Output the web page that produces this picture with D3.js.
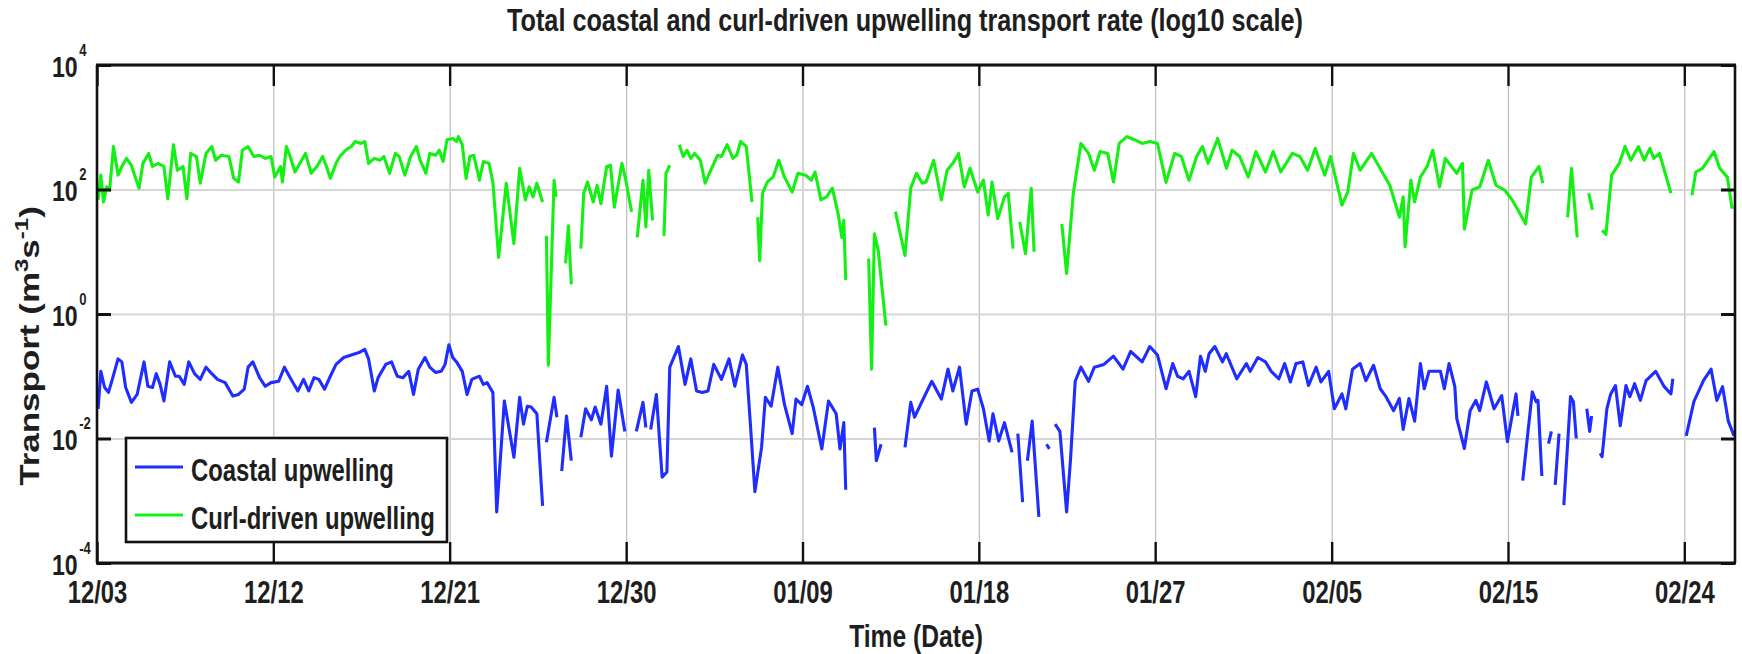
<!DOCTYPE html>
<html>
<head>
<meta charset="utf-8">
<script src="https://cdn.jsdelivr.net/npm/d3@7"></script>
<style>
  body { margin: 0; background: #fff; }
  text { font-family: "Liberation Sans", Arial, sans-serif; font-weight: bold; fill: #1e1e1e; }
</style>
</head>
<body>
<div id="chart"></div>
<script>
// days counted from 12/03 00:00
const dateTickDays = [0, 9.22, 18.44, 27.67, 36.89, 46.11, 55.33, 64.56, 73.78, 83];
const dateTickLabels = ["12/03", "12/12", "12/21", "12/30", "01/09", "01/18", "01/27", "02/05", "02/15", "02/24"];
const transportTicks = [1e-4, 1e-2, 1, 1e2, 1e4];
const seriesNames = ["Coastal upwelling", "Curl-driven upwelling"];

// [day, transport m^3 s^-1], null = no data
const coastalSeries = [
  [0.06,0.030],[0.2,0.12],[0.4,0.066],[0.6,0.055],[0.8,0.089],[1.1,0.19],[1.3,0.17],[1.5,0.066],[1.8,0.038],[2.1,0.051],
  [2.46,0.17],[2.66,0.069],[2.9,0.066],[3.1,0.11],[3.3,0.074],[3.5,0.040],[3.8,0.17],[4.1,0.10],[4.3,0.10],[4.56,0.074],
  [4.8,0.17],[5.1,0.11],[5.4,0.089],[5.7,0.14],[6.0,0.11],[6.3,0.089],[6.7,0.079],[7.1,0.048],[7.4,0.051],[7.7,0.062],
  [7.9,0.14],[8.15,0.17],[8.5,0.095],[8.8,0.069],[9.1,0.079],[9.5,0.083],[9.8,0.14],[10.1,0.095],[10.5,0.058],[10.8,0.089],
  [11.07,0.058],[11.35,0.095],[11.6,0.089],[11.9,0.062],[12.2,0.10],[12.5,0.155],[12.9,0.20],[13.3,0.22],[13.7,0.24],[14.0,0.27],
  [14.2,0.19],[14.5,0.058],[14.7,0.095],[15.1,0.155],[15.4,0.17],[15.7,0.10],[16.0,0.095],[16.3,0.12],[16.55,0.051],[16.8,0.13],
  [17.15,0.20],[17.4,0.14],[17.7,0.115],[18.0,0.12],[18.2,0.155],[18.4,0.32],[18.6,0.20],[18.8,0.17],[19.1,0.12],[19.35,0.051],
  [19.6,0.089],[19.8,0.095],[20.0,0.10],[20.2,0.074],[20.4,0.079],[20.7,0.055],[20.9,0.00066],[21.3,0.040],[21.8,0.0050],[22.1,0.046],
  [22.3,0.017],[22.5,0.033],[22.7,0.032],[23.0,0.025],[23.3,0.00083],[23.4,null],[23.5,0.0087],[23.9,0.046],[24.05,0.022],[24.2,null],
  [24.3,0.0030],[24.55,0.023],[24.8,0.0044],[25.0,null],[25.3,0.0105],[25.55,0.030],[25.85,0.020],[26.05,0.032],[26.35,0.017],[26.65,0.069],
  [26.9,0.0052],[27.25,0.060],[27.6,0.013],[27.9,null],[28.2,0.013],[28.55,0.038],[28.7,0.015],[28.8,null],[28.95,0.014],[29.25,0.051],
  [29.55,0.0024],[29.8,0.0029],[29.95,0.14],[30.4,0.30],[30.75,0.074],[31.05,0.19],[31.35,0.058],[31.65,0.055],[31.95,0.058],[32.25,0.155],
  [32.65,0.089],[33.05,0.19],[33.35,0.069],[33.75,0.22],[33.95,0.155],[34.15,0.020],[34.4,0.0014],[34.75,0.0072],[34.95,0.046],[35.25,0.033],
  [35.6,0.14],[35.95,0.035],[36.35,0.012],[36.55,0.043],[36.85,0.035],[37.15,0.069],[37.45,0.032],[37.9,0.0068],[38.25,0.040],[38.65,0.025],
  [38.85,0.0068],[39.05,0.018],[39.15,0.0015],[39.9,null],[40.65,0.015],[40.75,0.0044],[41.0,0.0081],[41.6,null],[42.25,0.0072],[42.55,0.038],
  [42.75,0.022],[43.15,0.040],[43.65,0.083],[44.15,0.043],[44.5,0.13],[44.75,0.058],[45.1,0.14],[45.45,0.017],[45.75,0.058],[46.05,0.062],
  [46.35,0.030],[46.65,0.0091],[46.85,0.025],[47.15,0.0091],[47.45,0.018],[47.85,0.0060],[48.0,null],[48.15,0.012],[48.4,0.00095],[48.5,null],
  [48.65,0.0044],[48.9,0.019],[49.25,0.00055],[49.45,null],[49.65,0.0081],[49.8,0.0068],[49.95,null],[50.1,0.017],[50.35,0.013],[50.7,0.00066],
  [50.9,0.0044],[51.15,0.083],[51.45,0.14],[51.85,0.083],[52.15,0.14],[52.65,0.155],[53.15,0.21],[53.65,0.13],[54.05,0.25],[54.65,0.17],
  [55.05,0.30],[55.45,0.22],[55.9,0.063],[56.25,0.16],[56.5,0.10],[56.8,0.091],[57.1,0.12],[57.45,0.047],[57.7,0.21],[57.95,0.12],
  [58.15,0.23],[58.45,0.30],[58.85,0.17],[59.05,0.23],[59.6,0.091],[60.1,0.16],[60.3,0.12],[60.7,0.20],[61.1,0.17],[61.4,0.12],
  [61.8,0.091],[62.1,0.16],[62.4,0.081],[62.7,0.16],[63.05,0.17],[63.35,0.071],[63.75,0.14],[64.0,0.081],[64.4,0.12],[64.7,0.030],
  [65.1,0.052],[65.3,0.030],[65.65,0.13],[66.05,0.16],[66.35,0.085],[66.75,0.15],[67.1,0.063],[67.4,0.047],[67.8,0.028],[68.1,0.044],
  [68.3,0.014],[68.6,0.044],[68.9,0.019],[69.2,0.16],[69.4,0.063],[69.65,0.12],[70.25,0.12],[70.45,0.063],[70.7,0.16],[71.0,0.068],
  [71.1,0.021],[71.5,0.0069],[71.8,0.028],[72.1,0.041],[72.3,0.028],[72.65,0.081],[73.05,0.030],[73.45,0.049],[73.75,0.0089],[74.2,0.052],
  [74.3,0.023],[74.4,null],[74.55,0.0021],[75.05,0.056],[75.25,0.039],[75.35,0.041],[75.55,0.0025],[75.7,null],[75.9,0.0083],[76.05,0.013],
  [76.15,null],[76.25,0.0018],[76.45,0.012],[76.55,null],[76.7,0.00085],[77.05,0.047],[77.2,0.039],[77.35,0.010],[77.6,null],[77.9,0.030],
  [78.05,0.013],[78.15,0.023],[78.4,null],[78.6,0.0058],[78.7,0.0051],[78.95,0.030],[79.15,0.052],[79.4,0.071],[79.65,0.016],[79.95,0.071],
  [80.15,0.047],[80.4,0.076],[80.7,0.041],[81.0,0.085],[81.5,0.12],[81.95,0.068],[82.3,0.052],[82.4,0.091],[82.8,null],[83.1,0.011],
  [83.5,0.039],[84.0,0.085],[84.4,0.13],[84.7,0.041],[85.0,0.068],[85.3,0.019],[85.6,0.011]
];

const curlSeries = [
  [0.06,68],[0.2,170],[0.34,63],[0.5,110],[0.66,98],[0.86,490],[1.1,170],[1.3,234],[1.54,316],[1.8,245],
  [2.0,158],[2.2,105],[2.4,263],[2.7,380],[2.9,234],[3.2,263],[3.5,234],[3.7,71],[4.0,525],[4.2,204],
  [4.5,234],[4.7,71],[4.9,380],[5.2,339],[5.4,126],[5.7,380],[6.0,490],[6.2,295],[6.5,355],[6.9,339],
  [7.15,151],[7.4,132],[7.6,427],[7.9,490],[8.2,339],[8.5,355],[8.8,316],[9.1,339],[9.3,158],[9.6,234],
  [9.7,132],[9.9,490],[10.1,339],[10.35,191],[10.7,295],[10.9,380],[11.2,182],[11.5,234],[11.8,339],[12.0,234],
  [12.2,151],[12.5,263],[12.7,339],[13.0,427],[13.3,490],[13.5,589],[13.8,550],[14.0,589],[14.2,263],[14.5,316],
  [14.8,295],[15.0,339],[15.3,182],[15.6,380],[15.8,339],[16.1,170],[16.4,339],[16.7,490],[16.9,295],[17.2,182],
  [17.4,380],[17.7,355],[17.9,427],[18.1,282],[18.3,631],[18.6,661],[18.8,589],[18.9,708],[19.1,525],[19.3,151],
  [19.5,339],[19.7,355],[20.0,141],[20.2,282],[20.5,263],[20.7,132],[21.0,8.1],[21.4,126],[21.8,13.5],[22.1,219],
  [22.4,68],[22.6,110],[22.8,76],[23.0,126],[23.3,63],[23.4,null],[23.5,18],[23.6,0.15],[23.9,141],[24.0,76],
  [24.2,null],[24.5,6.5],[24.65,26],[24.8,3.0],[25.0,null],[25.3,11.2],[25.45,87],[25.65,132],[25.95,63],[26.15,117],
  [26.35,59],[26.65,234],[26.85,245],[27.05,52],[27.45,263],[27.65,141],[27.95,44],[28.1,null],[28.25,17],[28.55,141],
  [28.7,25],[28.85,204],[29.05,32],[29.3,null],[29.65,18],[29.75,182],[29.95,245],[30.2,null],[30.45,525],[30.65,339],
  [30.85,427],[31.05,316],[31.25,380],[31.55,295],[31.8,126],[32.05,191],[32.45,355],[32.65,339],[32.95,525],[33.25,316],
  [33.45,355],[33.65,589],[33.95,490],[34.25,63],[34.4,null],[34.55,36],[34.65,7.2],[34.8,87],[35.05,132],[35.35,158],
  [35.65,295],[35.95,158],[36.35,91],[36.65,182],[37.05,170],[37.35,141],[37.55,191],[37.85,68],[38.15,76],[38.45,105],
  [38.75,41],[38.95,17],[39.05,32],[39.15,3.5],[39.7,null],[40.35,7.8],[40.5,0.13],[40.65,19.5],[40.85,10.5],[41.25,0.65],
  [41.5,null],[41.75,44],[42.25,8.7],[42.55,105],[42.85,182],[43.15,126],[43.35,132],[43.75,295],[44.15,68],[44.45,204],
  [44.75,263],[45.05,380],[45.35,110],[45.65,219],[46.05,91],[46.35,141],[46.6,39],[46.8,132],[47.1,34],[47.45,76],
  [47.65,87],[47.9,11.2],[48.1,null],[48.25,30],[48.55,9.3],[48.85,105],[49.0,10],[49.5,null],[50.45,28],[50.7,4.5],
  [51.05,87],[51.45,550],[51.85,380],[52.15,204],[52.45,407],[52.85,380],[53.15,132],[53.45,550],[53.85,708],[54.25,631],
  [54.65,550],[55.05,589],[55.45,550],[55.9,130],[56.35,380],[56.7,339],[57.1,141],[57.5,339],[57.8,490],[58.1,263],
  [58.6,661],[59.06,219],[59.35,427],[59.75,339],[60.2,158],[60.6,407],[61.1,191],[61.5,407],[61.9,191],[62.5,380],
  [62.9,339],[63.3,204],[63.7,457],[64.2,170],[64.5,339],[65.1,56],[65.4,91],[65.7,380],[66.05,204],[66.65,380],
  [67.2,191],[67.6,117],[68.1,36],[68.3,76],[68.4,12],[68.7,141],[68.9,63],[69.2,158],[69.55,234],[69.85,427],
  [70.2,110],[70.5,316],[71.1,182],[71.4,263],[71.5,23],[71.9,98],[72.3,110],[72.75,295],[73.15,117],[73.6,98],
  [74.0,68],[74.3,47],[74.7,28],[75.0,158],[75.4,234],[75.6,126],[76.0,null],[76.9,36],[77.1,219],[77.4,17],
  [77.7,null],[78.0,87],[78.2,47],[78.4,null],[78.7,22],[78.9,19],[79.2,170],[79.6,263],[79.9,490],[80.2,295],
  [80.6,490],[80.9,295],[81.2,457],[81.4,316],[81.7,380],[82.3,87],[82.8,null],[83.4,81],[83.6,191],[83.95,219],
  [84.55,407],[84.85,219],[85.25,158],[85.5,49]
];

const width = 1742, height = 654;
const margin = { top: 65, right: 7, bottom: 91, left: 97 };
const plotW = width - margin.left - margin.right;
const plotH = height - margin.top - margin.bottom;
const squeeze = 0.77;   // source figure text is narrow
const blue = "#1f2dff", green = "#14f014";

const svg = d3.select("#chart")
    .append("svg")
    .attr("width", width)
    .attr("height", height)
    .append("g")
    .attr("transform", `translate(${margin.left},${margin.top})`);

const x = d3.scaleLinear().domain([0, 85.65]).range([0, plotW]);
const y = d3.scaleLog().domain([1e-4, 1e4]).range([plotH, 0]);

// grid
svg.append("g")
    .attr("transform", `translate(0,${plotH})`)
    .call(d3.axisBottom(x).tickValues(dateTickDays).tickSize(-plotH).tickFormat(""))
    .call(g => g.select(".domain").remove())
    .selectAll("line").attr("stroke", "#bcbcbc").attr("stroke-width", 1.2);

svg.append("g")
    .call(d3.axisLeft(y).tickValues(transportTicks).tickSize(-plotW).tickFormat(""))
    .call(g => g.select(".domain").remove())
    .selectAll("line").attr("stroke", "#d6d6d6").attr("stroke-width", 2);

// series
svg.append("clipPath").attr("id", "plot-clip")
    .append("rect").attr("width", plotW).attr("height", plotH);

const line = d3.line()
    .defined(d => d[1] != null)
    .x(d => x(d[0]))
    .y(d => y(d[1]));

const plotArea = svg.append("g").attr("clip-path", "url(#plot-clip)");
plotArea.append("path").datum(curlSeries)
    .attr("fill", "none").attr("stroke", green).attr("stroke-width", 3.1)
    .attr("stroke-linejoin", "round").attr("d", line);
plotArea.append("path").datum(coastalSeries)
    .attr("fill", "none").attr("stroke", blue).attr("stroke-width", 3.1)
    .attr("stroke-linejoin", "round").attr("d", line);

// axes, ticks pointing inward
const xAxis = svg.append("g")
    .attr("transform", `translate(0,${plotH})`)
    .call(d3.axisBottom(x).tickValues(dateTickDays).tickSize(-21)
        .tickFormat((d, i) => dateTickLabels[i]));
xAxis.selectAll(".tick line").attr("stroke", "#111").attr("stroke-width", 2.4);
xAxis.selectAll(".tick text")
    .attr("y", 40).attr("dy", null)
    .attr("transform", `scale(${squeeze},1)`)
    .style("font-size", "31px");

svg.append("g")
    .call(d3.axisTop(x).tickValues(dateTickDays).tickSize(-21).tickFormat(""))
    .selectAll(".tick line").attr("stroke", "#111").attr("stroke-width", 2.4);

const yAxis = svg.append("g")
    .call(d3.axisLeft(y).tickValues(transportTicks).tickSize(-14).tickFormat(""));
yAxis.selectAll(".tick line").attr("stroke", "#111").attr("stroke-width", 3);
yAxis.selectAll(".tick text")
    .attr("x", 0).attr("dy", null).attr("y", 11)
    .attr("text-anchor", "start")
    .attr("transform", `translate(-45,0) scale(${squeeze},1)`)
    .style("font-size", "30px")
    .each(function (d) {
        const t = d3.select(this);
        t.append("tspan").text("10");
        t.append("tspan").attr("dx", 2).attr("dy", -21).style("font-size", "17px")
            .text(Math.round(Math.log10(d)));
    });

svg.append("g")
    .attr("transform", `translate(${plotW},0)`)
    .call(d3.axisRight(y).tickValues(transportTicks).tickSize(-14).tickFormat(""))
    .selectAll(".tick line").attr("stroke", "#111").attr("stroke-width", 3);

svg.selectAll(".domain").remove();

// frame
const frame = svg.append("g").attr("stroke", "#111");
frame.append("line").attr("x1", -1).attr("x2", plotW + 1).attr("y1", 0).attr("y2", 0).attr("stroke-width", 3);
frame.append("line").attr("x1", -1).attr("x2", plotW + 1).attr("y1", plotH).attr("y2", plotH).attr("stroke-width", 3);
frame.append("line").attr("x1", 0).attr("x2", 0).attr("y1", 0).attr("y2", plotH).attr("stroke-width", 2.6);
frame.append("line").attr("x1", plotW).attr("x2", plotW).attr("y1", 0).attr("y2", plotH).attr("stroke-width", 2.6);

// title and axis labels
svg.append("text")
    .attr("x", plotW / 2 - 11).attr("y", -34)
    .attr("text-anchor", "middle")
    .attr("textLength", 796).attr("lengthAdjust", "spacingAndGlyphs")
    .style("font-size", "32px")
    .text("Total coastal and curl-driven upwelling transport rate (log10 scale)");

svg.append("text")
    .attr("transform", `translate(${plotW / 2},582) scale(${squeeze},1)`)
    .attr("text-anchor", "middle")
    .style("font-size", "32px")
    .text("Time (Date)");

const yLabel = svg.append("text")
    .attr("transform", `translate(-58,${plotH / 2 + 32}) rotate(-90) scale(1,${squeeze})`)
    .attr("text-anchor", "middle")
    .style("font-size", "35px");
yLabel.append("tspan").text("Transport (m");
yLabel.append("tspan").attr("dy", -14).style("font-size", "24px").text("3");
yLabel.append("tspan").attr("dy", 14).text("s");
yLabel.append("tspan").attr("dy", -14).style("font-size", "24px").text("-1");
yLabel.append("tspan").attr("dy", 14).text(")");

// legend
const legend = svg.append("g").attr("transform", "translate(29,373)");
legend.append("rect")
    .attr("width", 321).attr("height", 104)
    .attr("fill", "#fff").attr("stroke", "#111").attr("stroke-width", 2.6);
const legendRows = legend.selectAll(".row")
    .data(seriesNames)
    .join("g")
    .attr("transform", (d, i) => `translate(0,${29 + i * 48})`);
legendRows.append("line")
    .attr("x1", 9).attr("x2", 57)
    .attr("stroke", (d, i) => i === 0 ? blue : green)
    .attr("stroke-width", 3.1);
legendRows.append("text")
    .attr("transform", `translate(65,14) scale(${squeeze},1)`)
    .style("font-size", "31px")
    .text(d => d);
</script>
</body>
</html>
